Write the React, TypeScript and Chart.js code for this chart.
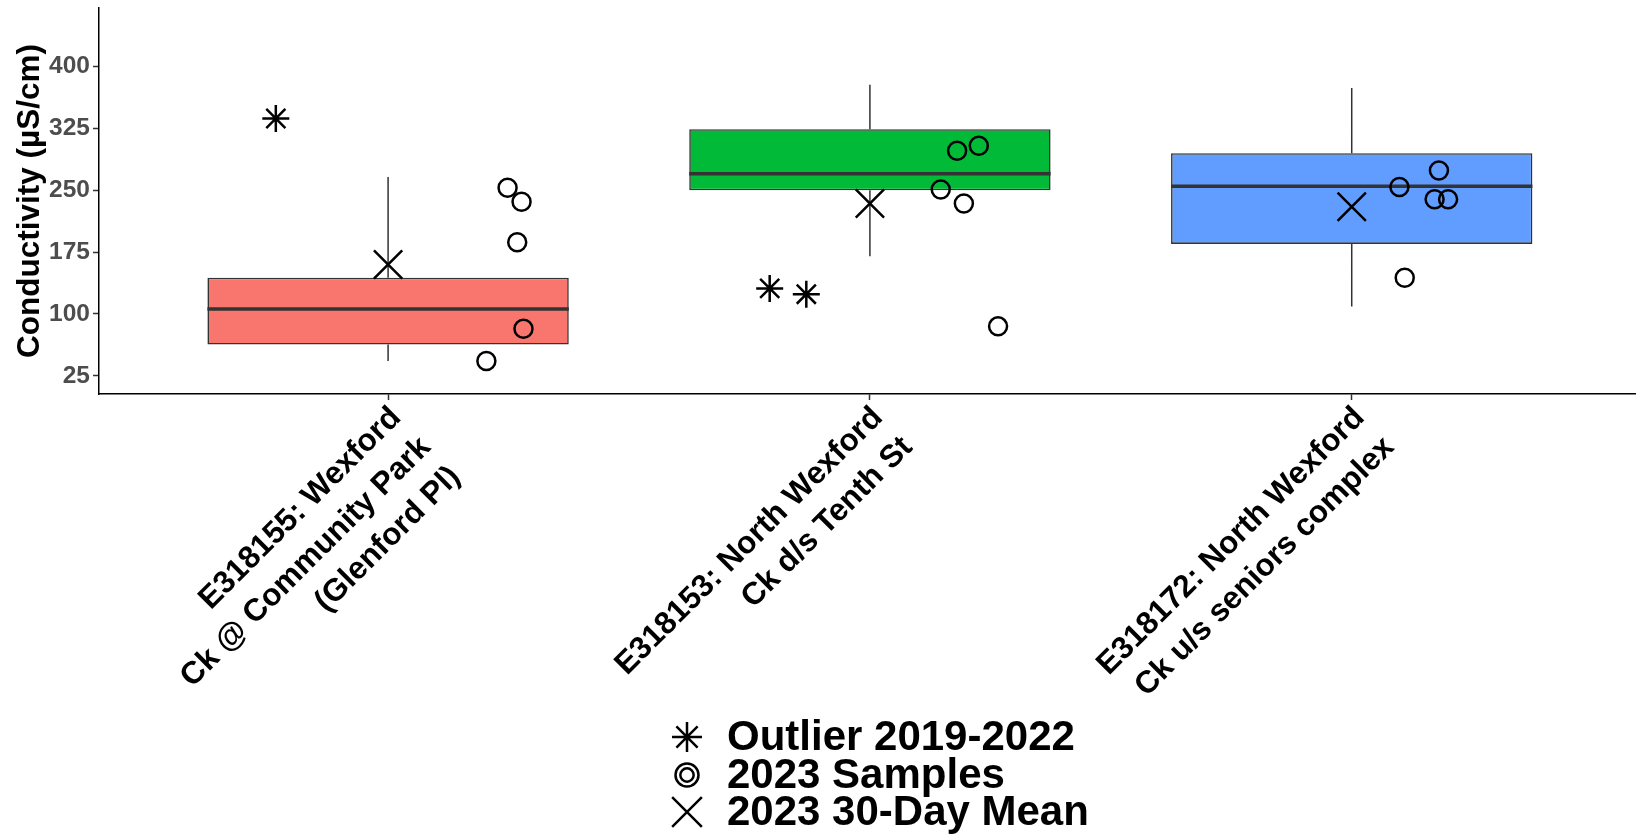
import React, { useEffect, useRef } from "react";
import { Chart, registerables } from "chart.js";

Chart.register(...registerables);

// ---------- data ----------
const categories: string[][] = [
  ["E318155: Wexford", "Ck @ Community Park", "(Glenford Pl)"],
  ["E318153: North Wexford", "Ck d/s Tenth St"],
  ["E318172: North Wexford", "Ck u/s seniors complex"],
];
const boxColors = ["#F8766D", "#00BA38", "#619CFF"];

const whiskerLow = [43, 170, 109];
const q1 = [63, 250, 185];
const median = [106, 270, 255];
const q3 = [144, 324, 295];
const whiskerHigh = [266, 378, 374];
const mean30Day = [160, 234, 230];

const outlierX = [0.767, 1.792, 1.868];
const outlierY = [337, 131, 124];

const sampleX = [
  1.248, 1.277, 1.268, 1.281, 1.204,
  2.181, 2.226, 2.147, 2.195, 2.266,
  3.099, 3.181, 3.172, 3.2, 3.11,
];
const sampleY = [
  253, 236, 187, 82, 43,
  298, 304, 251, 234, 85,
  254, 274, 239, 239, 144,
];

const yTicks = [25, 100, 175, 250, 325, 400];

const legendLabels = ["Outlier 2019-2022", "2023 Samples", "2023 30-Day Mean"];

// ---------- styles ----------
const FONT = "'Liberation Sans', Arial, Helvetica, sans-serif";
const BOX_HALF = 0.375;
const LINE_COL = "#333333";

function drawSymbol(ctx: CanvasRenderingContext2D, kind: string, x: number, y: number, r: number) {
  ctx.save();
  ctx.strokeStyle = "#000";
  ctx.lineWidth = 2.5;
  ctx.beginPath();
  if (kind === "star") {
    ctx.moveTo(x - r, y); ctx.lineTo(x + r, y);
    ctx.moveTo(x, y - r); ctx.lineTo(x, y + r);
    const d = r * Math.SQRT1_2;
    ctx.moveTo(x - d, y - d); ctx.lineTo(x + d, y + d);
    ctx.moveTo(x - d, y + d); ctx.lineTo(x + d, y - d);
  } else if (kind === "circle") {
    ctx.arc(x, y, r, 0, Math.PI * 2);
    ctx.moveTo(x + r * 0.58, y);
    ctx.arc(x, y, r * 0.58, 0, Math.PI * 2);
  } else {
    const d = r * Math.SQRT1_2;
    ctx.moveTo(x - d, y - d); ctx.lineTo(x + d, y + d);
    ctx.moveTo(x - d, y + d); ctx.lineTo(x + d, y - d);
  }
  ctx.stroke();
  ctx.restore();
}

const legendPlugin = {
  id: "stackedLegend",
  afterDraw(chart: any) {
    const ctx: CanvasRenderingContext2D = chart.ctx;
    const kinds = ["star", "circle", "cross"];
    const sizes = [15, 11.5, 21];
    const rowY = [737, 775, 812];
    const symX = 687;
    const textX = 727;
    ctx.save();
    ctx.fillStyle = "#000";
    ctx.font = `bold 42px ${FONT}`;
    ctx.textBaseline = "middle";
    ctx.textAlign = "left";
    legendLabels.forEach((lab, i) => {
      drawSymbol(ctx, kinds[i], symX, rowY[i], sizes[i]);
      ctx.fillText(lab, textX, rowY[i] + 1);
    });
    ctx.restore();
  },
};

const zeroPad = () => ({ left: 0, top: 0, right: 0, bottom: 0 });

export default function App() {
  const canvasRef = useRef<HTMLCanvasElement | null>(null);

  useEffect(() => {
    if (!canvasRef.current) return;

    const whiskerData: any[] = [];
    const medianData: any[] = [];
    categories.forEach((_, i) => {
      const x = i + 1;
      whiskerData.push({ x, y: whiskerHigh[i] }, { x, y: q3[i] }, { x, y: null });
      whiskerData.push({ x, y: q1[i] }, { x, y: whiskerLow[i] }, { x, y: null });
      medianData.push({ x: x - BOX_HALF, y: median[i] }, { x: x + BOX_HALF, y: median[i] }, { x, y: null });
    });

    const chart = new Chart(canvasRef.current, {
      type: "line",
      data: {
        datasets: [
          {
            type: "line",
            label: "whiskers",
            data: whiskerData,
            borderColor: LINE_COL,
            borderWidth: 1.5,
            pointRadius: 0,
            spanGaps: false,
            order: 10,
          } as any,
          {
            type: "bar",
            label: "boxes",
            data: categories.map((_, i) => ({ x: i + 1, y: [q1[i], q3[i]] })),
            backgroundColor: boxColors,
            borderColor: LINE_COL,
            borderWidth: 1.6,
            borderSkipped: false,
            barPercentage: BOX_HALF * 2,
            categoryPercentage: 1,
            order: 9,
          } as any,
          {
            type: "line",
            label: "median",
            data: medianData,
            borderColor: LINE_COL,
            borderWidth: 3.5,
            pointRadius: 0,
            spanGaps: false,
            order: 8,
          } as any,
          {
            type: "line",
            label: legendLabels[0],
            data: outlierX.map((x, i) => ({ x, y: outlierY[i] })),
            showLine: false,
            pointStyle: "star",
            pointRadius: 13.5,
            pointBorderWidth: 2.5,
            pointBorderColor: "#000",
            pointBackgroundColor: "#000",
            order: 3,
          } as any,
          {
            type: "line",
            label: legendLabels[1],
            data: sampleX.map((x, i) => ({ x, y: sampleY[i] })),
            showLine: false,
            pointStyle: "circle",
            pointRadius: 9,
            pointBorderWidth: 2.5,
            pointBorderColor: "#000",
            pointBackgroundColor: "rgba(0,0,0,0)",
            order: 2,
          } as any,
          {
            type: "line",
            label: legendLabels[2],
            data: categories.map((_, i) => ({ x: i + 1, y: mean30Day[i] })),
            showLine: false,
            pointStyle: "crossRot",
            pointRadius: 20,
            pointBorderWidth: 2.5,
            pointBorderColor: "#000",
            order: 1,
          } as any,
        ],
      },
      options: {
        animation: false,
        responsive: true,
        maintainAspectRatio: false,
        events: [],
        layout: { autoPadding: false, padding: { top: 8, left: 0, right: 0, bottom: 0 } },
        plugins: {
          legend: { display: false },
          tooltip: { enabled: false },
        },
        scales: {
          x: {
            type: "linear",
            offset: false,
            min: 0.4,
            max: 3.59,
            afterBuildTicks: (scale: any) => {
              scale.ticks = categories.map((_, i) => ({ value: i + 1 }));
            },
            afterFit: (scale: any) => {
              scale.height = 446;
              scale.paddingLeft = 0;
              scale.paddingRight = 0;
              scale.getPadding = zeroPad;
            },
            grid: {
              display: true,
              offset: false,
              drawOnChartArea: false,
              tickLength: 6,
              tickColor: LINE_COL,
              tickWidth: 1.5,
            },
            border: { display: true, color: "#000", width: 1.5 },
            ticks: {
              autoSkip: false,
              minRotation: 45,
              maxRotation: 45,
              padding: -2,
              labelOffset: 8,
              color: "#000",
              font: { family: FONT, size: 31.5, weight: "bold", lineHeight: 1.33 },
              callback: (v: any) => {
                const idx = Math.round(Number(v)) - 1;
                return categories[idx] ?? "";
              },
            },
          },
          y: {
            type: "linear",
            min: 3,
            max: 471,
            afterBuildTicks: (scale: any) => {
              scale.ticks = yTicks.map((v) => ({ value: v }));
            },
            afterFit: (scale: any) => {
              scale.width = 99;
              scale.paddingTop = 0;
              scale.paddingBottom = 0;
              scale.getPadding = zeroPad;
            },
            grid: {
              display: true,
              drawOnChartArea: false,
              tickLength: 6,
              tickColor: LINE_COL,
              tickWidth: 1.5,
            },
            border: { display: true, color: "#000", width: 1.5 },
            ticks: {
              padding: 3,
              color: "#4D4D4D",
              font: { family: FONT, size: 24.5, weight: "bold" },
            },
            title: {
              display: true,
              text: "Conductivity (µS/cm)",
              color: "#000",
              padding: { top: 11, bottom: 0 },
              font: { family: FONT, size: 31.5, weight: "bold", lineHeight: 1.2 },
            },
          },
        },
      } as any,
      plugins: [legendPlugin],
    });

    return () => chart.destroy();
  }, []);

  return (
    <div style={{ position: "fixed", left: 0, top: 0, width: 1636, height: 840, background: "#fff" }}>
      <canvas ref={canvasRef} />
    </div>
  );
}
